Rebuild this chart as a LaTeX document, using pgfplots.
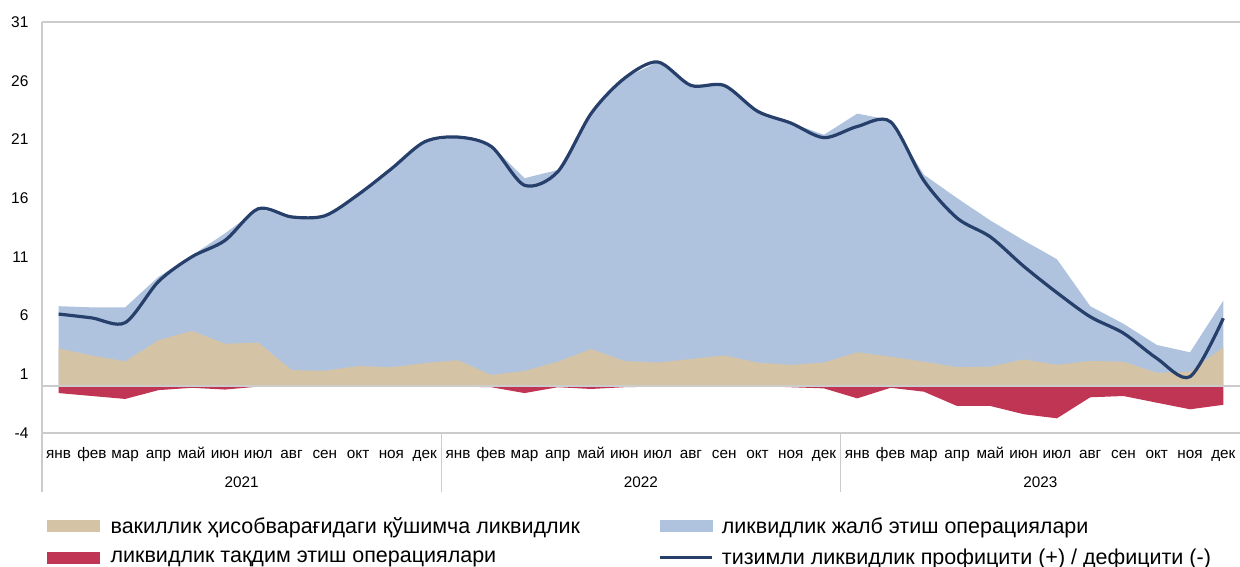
\documentclass[border=0pt]{standalone}
\usepackage{fontspec}
\setmainfont{Liberation Sans}
\usepackage{pgfplots}
\usepackage{pgfplotstable}
\pgfplotsset{compat=1.18}
\definecolor{tanc}{RGB}{213,195,166}
\definecolor{bluec}{RGB}{176,195,222}
\definecolor{redc}{RGB}{192,52,84}
\definecolor{linec}{RGB}{38,64,107}
\definecolor{axc}{RGB}{204,204,204}

\pgfplotstableread{
x tan tot red line
0 3.20 6.80 -0.60 6.13
1 2.60 6.70 -0.85 5.80
2 2.10 6.70 -1.10 5.40
3 3.90 9.30 -0.35 8.90
4 4.70 11.10 -0.15 11.00
5 3.60 13.00 -0.30 12.40
6 3.70 15.10 -0.05 15.10
7 1.36 14.40 0.00 14.40
8 1.30 14.50 0.00 14.50
9 1.70 16.30 0.00 16.30
10 1.60 18.50 0.00 18.50
11 1.95 20.80 0.00 20.80
12 2.20 21.20 -0.05 21.20
13 0.94 20.50 -0.10 20.40
14 1.28 17.70 -0.60 17.10
15 2.07 18.40 -0.10 18.25
16 3.15 23.20 -0.25 23.20
17 2.13 26.20 -0.10 26.20
18 2.00 27.60 -0.05 27.60
19 2.30 25.60 0.00 25.60
20 2.60 25.70 0.00 25.60
21 2.00 23.40 0.00 23.40
22 1.80 22.40 -0.10 22.40
23 2.00 21.40 -0.20 21.15
24 2.87 23.20 -1.05 22.10
25 2.50 22.65 -0.15 22.50
26 2.07 18.00 -0.48 17.50
27 1.60 16.00 -1.70 14.30
28 1.65 14.10 -1.70 12.70
29 2.27 12.40 -2.40 10.20
30 1.80 10.80 -2.75 7.95
31 2.13 6.80 -0.96 5.90
32 2.07 5.30 -0.85 4.50
33 1.13 3.50 -1.42 2.36
34 1.22 2.87 -1.98 0.80
35 3.30 7.27 -1.60 5.77
}\data

\begin{document}
\begin{tikzpicture}
\begin{axis}[
  at={(42pt,-433pt)}, anchor=south west,
  width=1198pt, height=411pt, scale only axis,
  xmin=-0.5, xmax=35.5, ymin=-4, ymax=31,
  axis line style={draw=none},
  xtick={0,...,35},
  xticklabels={янв,фев,мар,апр,май,июн,июл,авг,сен,окт,ноя,дек,
               янв,фев,мар,апр,май,июн,июл,авг,сен,окт,ноя,дек,
               янв,фев,мар,апр,май,июн,июл,авг,сен,окт,ноя,дек},
  ytick={-4,1,6,11,16,21,26,31},
  yticklabels={-4,1,6,11,16,21,26,31},
  major tick length=0pt,
  xticklabel style={font=\fontsize{15.3}{18}\selectfont, anchor=base, yshift=-25pt},
  yticklabel style={font=\fontsize{15.5}{18}\selectfont, xshift=-10pt},
  clip=false,
  legend columns=2,
  legend cell align=left,
  legend style={draw=none, fill=none, inner sep=0pt,
    at={(rel axis cs:0,0)}, anchor=north west, xshift=5pt, yshift=-82pt,
    font=\fontsize{21.5}{24}\selectfont,
    /tikz/every even column/.append style={column sep=76pt},
    row sep=10.5pt},
]
\addplot[fill=bluec, draw=none, forget plot] table[x=x,y=tot]{\data} \closedcycle;
\addplot[fill=tanc, draw=none, forget plot] table[x=x,y=tan]{\data} \closedcycle;
\addplot[fill=redc, draw=none, forget plot] table[x=x,y=red]{\data} \closedcycle;
\draw[axc, line width=1.5pt] (axis cs:-0.5,0) -- (axis cs:35.5,0);
\draw[axc, line width=1.3pt] (axis cs:-0.5,31) -- (axis cs:35.5,31);
\draw[axc, line width=1.3pt] (axis cs:-0.5,-4) -- (axis cs:35.5,-4);
\draw[axc, line width=1.3pt] (axis cs:-0.5,31) -- (axis cs:-0.5,-4) -- ++(0pt,-59pt);
\draw[axc, line width=1.3pt] (axis cs:11.5,-4) -- ++(0pt,-59pt);
\draw[axc, line width=1.3pt] (axis cs:23.5,-4) -- ++(0pt,-59pt);
\addplot[linec, line width=3.2pt, smooth, forget plot] table[x=x,y=line]{\data};
\node[font=\fontsize{15.3}{18}\selectfont, anchor=base] at (axis cs:5.5,-4) [yshift=-54pt] {2021};
\node[font=\fontsize{15.3}{18}\selectfont, anchor=base] at (axis cs:17.5,-4) [yshift=-54pt] {2022};
\node[font=\fontsize{15.3}{18}\selectfont, anchor=base] at (axis cs:29.5,-4) [yshift=-54pt] {2023};
\addlegendimage{legend image code/.code={\fill[tanc] (0pt,-5.3pt) rectangle (52pt,5.3pt); \path (61pt,0pt);}}
\addlegendentry{вакиллик ҳисобварағидаги қўшимча ликвидлик}
\addlegendimage{legend image code/.code={\fill[bluec] (0pt,-5.3pt) rectangle (52pt,5.3pt); \path (60pt,0pt);}}
\addlegendentry{ликвидлик жалб этиш операциялари}
\addlegendimage{legend image code/.code={\fill[redc] (0pt,-5.3pt) rectangle (52pt,5.3pt); \path (61pt,0pt);}}
\addlegendentry{ликвидлик тақдим этиш операциялари}
\addlegendimage{legend image code/.code={\draw[linec, line width=3.2pt] (0pt,0pt) -- (52pt,0pt); \path (60pt,0pt);}}
\addlegendentry{тизимли ликвидлик профицити (+) / дефицити (-)}
\end{axis}
\pgfresetboundingbox
\path (0pt,0pt) rectangle (1240pt,-567pt);
\end{tikzpicture}
\end{document}
